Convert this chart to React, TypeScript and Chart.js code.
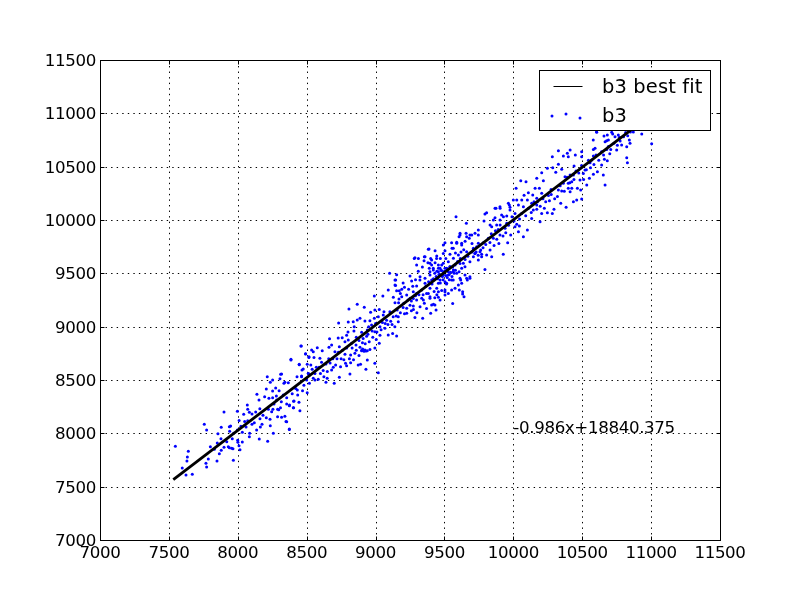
import React, { useEffect, useRef } from "react";
import { Chart, registerables } from "chart.js";

Chart.register(...registerables);

const tickValues = [7000, 7500, 8000, 8500, 9000, 9500, 10000, 10500, 11000, 11500];
const fitLabel = "b3 best fit";
const scatterLabel = "b3";
const annotationText = "-0.986x+18840.375";
const fitX = [7532, 10900];
const fitY = [7566, 10890];

const b3Low: number[][] = [
[7547,7878],[7597,7675],[7624,7609],[7670,7616],[7631,7741],[7634,7778],[7641,7831],[7769,7719],[7774,7684],[7757,8084],[7774,8031],[7786,7759],[7849,7741],[7801,7875],[7851,7909],[7856,7997],[7878,7950],[7866,7809],[7880,7841],[7900,7869],[7931,7875],[7939,7866],[7956,7859],[7965,7856],[7968,7747],[7880,8056],[7900,8200],[7939,8062],[7948,8069],[7941,8019],[7960,7950],[7997,8206],[7997,8031],[7999,7934],[8001,7916],[8009,7884],[8016,7847],[8033,7919],[8023,8066],[8033,8009],[8043,8178],[8069,8266],[8072,8225],[8084,8197],[8103,8181],[8072,8119],[8103,8084],[8086,8000],[8084,7969],[8137,8031],[8156,7947],[8164,8059],[8176,8084],[8217,7925],[8258,8000],[8236,8072],[8234,8131],[8161,8137],[8183,8169],[8207,8147],[8139,8366],[8154,8312],[8195,8344],[8207,8416],[8226,8328],[8253,8334],[8253,8397],[8275,8425],[8236,8478],[8263,8275],[8222,8225],[8246,8203],[8255,8225],[8289,8225],[8297,8222],[8289,8156],[8318,8150],[8355,8109],[8374,8041],[8316,8297],[8282,8312],[8355,8275],[8376,8266],[8405,8300],[8405,8241],[8444,8291],
[8461,8819],[8492,8744],[8517,8719],[8386,8687],[8446,8644],[8504,8647],[8466,8594],[8512,8562],[8214,8531],[8311,8553],[8306,8512],[8253,8500],[8335,8469],[8367,8475],[8519,8547],[8463,8537],[8342,8478],[8504,8381],[8451,8212],[8432,8406],[8408,8303],[8355,8334],[8374,8259],[8403,8241],[8342,8159],[8350,8112],[8374,8037],
];

const b3Mid: number[][] = [
[9102,9500],[9153,9487],[9141,9437],[9145,9387],[9172,9337],[9092,9344],[9053,9287],[8991,9287],[8867,9209],[8807,9166],[8918,9181],[8964,9134],[8995,9156],[9027,9162],[9061,9141],[9141,9225],[9157,9156],[9167,9225],[8732,9034],[8802,9044],[8838,9047],[8867,9062],[8887,9078],[8923,9053],[8959,9056],[8991,9078],[9020,9094],[9056,9109],[9104,9141],[9128,9094],[9165,9047],[9032,9000],[8995,8953],[9032,8919],[9068,8984],[9092,8922],[9124,8937],[9153,8912],[8971,9016],[8940,8969],[8899,8947],[8843,8959],[8790,8919],[8758,8897],[8729,8894],[8666,8887],[8681,8828],[8662,8806],[8737,8812],[8778,8859],[8802,8875],[8826,8844],[8858,8828],[8899,8775],[8923,8781],[8940,8775],[8959,8787],[8995,8800],[9027,8844],[8954,8859],[8887,8806],[8850,8750],[8819,8734],[8778,8741],[8705,8766],[8577,8803],[8536,8781],[8548,8766],[8613,8775],[8492,8747],[8458,8819],[8516,8712],[8553,8712],[8596,8703],[8386,8694],[8446,8647],[8475,8603],[8463,8531],[8512,8562],[8608,8666],[8693,8619],[8681,8594],[8649,8516],[8737,8525],[8782,8656],[8790,8634],[8819,8662],[8746,8625],[8874,8641],[8891,8647],[8940,8687],[8930,8600],[8995,8656],[9020,8569],[8814,8556],[8584,8506],[8318,8556],[8548,8516],
[8900,8778],[8912,8780],[8930,8772],[8916,8770],[8906,8790],[8560,8560],[8620,8590],[8640,8650],[8660,8700],[8720,8700],[8750,8700],[8770,8690],[8710,8640],[8830,8800],[8860,8900],[8880,8870],[8910,8890],[8935,8910],[8980,8900],[9010,8950],[9050,9040],[9080,9060],[9110,9050],[9140,9000],[9000,9030],[8950,9000],[8845,9000],[8800,8950],[8640,8480],[8700,8470],[8530,8640],[8570,8620],[8600,8560],
];

const b3Core: number[][] = [
[9971,10141],[9903,10125],[9874,10109],[9806,10069],[9794,10056],[9915,10047],[9952,10037],[9855,9999],[9903,9999],[9584,10031],[9659,9969],[9787,9991],[9831,9953],[9879,9953],[9940,9922],[9746,9906],[9722,9875],[9698,9859],[9657,9875],[9613,9875],[9606,9844],[9589,9791],[9625,9781],[9552,9787],[9504,9787],[9555,9734],[9492,9687],[9388,9728],[9432,9712],[9444,9662],[9359,9656],[9286,9647],[9311,9640],[9352,9619],[9432,9600],[9480,9578],[9528,9609],[9565,9641],[9601,9672],[9661,9703],[9710,9719],[9746,9781],[9782,9787],[9819,9828],[9855,9828],[9903,9859],[9959,9787],[9927,9678],[9831,9719],[9806,9672],[9843,9656],[9794,9537],[9746,9625],[9710,9656],[9685,9609],[9722,9687],[9763,9719],[9734,9750],[9637,9594],[9625,9547],[9606,9516],[9649,9484],[9685,9453],[9666,9437],[9618,9437],[9601,9391],[9632,9328],[9642,9281],[9577,9359],[9552,9344],[9504,9297],[9468,9250],[9407,9203],[9439,9156],[9400,9125],[9342,9078],[9286,9087],[9226,9125],[9165,9094],[9226,9172],[9274,9194],[9323,9187],[9354,9219],[9395,9266],[9456,9275],[9504,9344],[9444,9359],[9383,9312],[9335,9266],[9298,9250],[9250,9266],[9190,9281],[9129,9275],[9226,9297],[9274,9328],[9335,9344],[9395,9359],[9153,9337],[9190,9350],[9141,9391],[9146,9437],[9262,9428],[9298,9381],[9359,9406],[9407,9437],[9468,9437],[9504,9422],[9552,9437],[9323,9469],[9250,9475],[9395,9484],[9390,9547],[9419,9531],[9456,9515],[9492,9500],[9528,9515],[9565,9531],[9589,9500],[9468,9547],[9504,9547],[9540,9562],[9577,9578],[9492,9594],[9456,9578],[9407,9578],
[9430,9500],[9445,9520],[9460,9490],[9475,9530],[9485,9470],[9500,9520],[9510,9480],[9520,9540],[9535,9490],[9545,9510],[9555,9470],[9570,9500],[9440,9470],[9420,9450],[9450,9450],[9470,9410],[9490,9440],[9515,9400],[9535,9440],[9410,9400],[9385,9420],[9365,9380],[9345,9300],[9370,9310],[9425,9330],[9445,9300],[9480,9340],[9520,9460],[9560,9560],[9580,9530],[9595,9610],[9615,9640],[9650,9630],[9670,9660],[9700,9700],[9730,9700],[9745,9670],[9770,9680],[9780,9740],[9800,9770],[9830,9790],[9860,9760],[9880,9820],[9895,9780],[9700,9780],[9680,9830],[9650,9800],[9640,9720],[9620,9700],[9580,9690],[9540,9680],[9510,9640],[9470,9640],[9400,9640],[9380,9600],[9340,9560],[9310,9520],[9290,9440],[9270,9380],[9240,9350],[9210,9370],[9200,9410],[9180,9310],[9170,9260],[9205,9220],[9250,9200],[9290,9290],[9315,9300],[9430,9270],[9420,9210],[9370,9170],[9300,9130],[9260,9150],[9200,9180],
[9281,9640],[9354,9656],[9298,9578],[9383,9725],[9407,9625],[9443,9640],[9492,9765],[9504,9712],[9564,9734],[9589,9781],[9625,9765],[9613,9859],[9395,9594],[9419,9547],[9456,9547],[9480,9525],[9516,9547],[9540,9562],[9492,9484],[9528,9484],[9564,9515],[9395,9515],[9359,9453],[9322,9437],[9419,9437],[9456,9406],[9516,9406],[9564,9437],[9613,9453],[9661,9453],[9685,9468],[9625,9406],[9608,9343],[9632,9306],[9560,9218],[9528,9312],[9504,9328],[9456,9328],[9395,9281],[9347,9250],[9298,9312],[9274,9265],[9431,9203],[9613,9593],[9649,9562],[9710,9734],[9722,9687],[9758,9703],[9770,9656],[9746,9859],[9685,9859],[9661,9843],
];

const b3High: number[][] = [
[10605,10822],[10658,10787],[10682,10797],[10714,10822],[10721,10806],[10762,10797],[10690,10750],[10666,10734],[10738,10781],[10770,10775],[10842,10750],[10871,10825],[10932,10806],[11004,10716],[10847,10719],[10786,10703],[10823,10687],[10750,10656],[10707,10662],[10678,10662],[10593,10672],[10581,10662],[10412,10656],[10327,10650],[10392,10625],[10399,10594],[10363,10600],[10283,10594],[10450,10609],[10496,10640],[10496,10594],[10581,10600],[10569,10562],[10661,10569],[10682,10556],[10641,10516],[10823,10584],[10828,10537],[10666,10328],[10653,10422],[10610,10453],[10581,10428],[10552,10391],[10533,10328],[10508,10437],[10520,10469],[10557,10537],[10441,10506],[10327,10522],[10247,10484],[10286,10491],[10351,10475],[10308,10447],[10206,10444],[10218,10369],[10170,10391],[10054,10369],[10092,10359],[10020,10297],[10158,10297],[10189,10297],[10274,10287],[10327,10281],[10351,10272],[10399,10297],[10424,10297],[10465,10297],[10489,10281],[10412,10266],[10496,10197],[10460,10187],[10436,10172],[10344,10156],[10383,10119],[10295,10100],[10247,10069],[10283,10062],[10225,10109],[10206,10062],[10170,10100],[10194,9984],[10102,9906],[10133,10015],[10073,9844],[10044,9944],[10012,9937],[9981,9859],[10037,9891],[10078,10231],[10109,10256],[10141,10234],[10170,10203],[10206,10250],[10262,10181],[10102,10187],[10061,10187],[10025,10187],[10000,10187],[9964,10156],[9976,10119],[10037,10140],[10073,10125],[10133,10156],[10170,10140],[9867,10109],[9904,10109],[9976,10094],[10012,10062],[9928,10031],[9867,10022],[9843,9937],[9904,9953],[9952,9969],[10145,10094],[10363,10344],[10399,10344],[10412,10422],[10375,10406],[10436,10422],[10484,10375],[10424,10359],[10604,10828],[10580,10750],[10677,10744],
];

const b3Fill: number[][] = [
[8430,8530],[8480,8450],[8520,8470],[8560,8500],[8590,8620],[8625,8530],[8650,8580],[8670,8660],[8690,8700],[8730,8760],[8760,8780],[8790,8800],[8810,8700],[8840,8690],[8860,8780],[8880,8730],[8905,8850],[8925,8840],[8945,8930],[8975,8960],[9005,8880],[9040,8970],[9070,9030],[9090,9020],[9120,9020],[9150,9100],[9180,9130],[9210,9120],[9235,9250],[9260,9240],[9275,9160],[8420,8420],[8395,8370],[8330,8360],[8300,8400],[8280,8350],[8160,8230],[8130,8200],[8120,8100],[8060,8060],[8050,8110],[8010,8120],[7970,8000],[7920,7920],[7830,7850],[8310,8240],[8435,8360],[8470,8400],[8500,8500],[8540,8600],
[9840,9870],[9870,9900],[9890,9910],[9925,9850],[9945,9880],[9965,9950],[9990,10030],[10005,9990],[10025,9960],[10045,10010],[10060,10060],[10090,10040],[10110,10110],[10130,10070],[10150,10170],[10175,10170],[10195,10130],[10215,10200],[10235,10170],[10255,10230],[10275,10240],[10300,10200],[10320,10220],[10340,10320],[10370,10270],[10390,10400],[10410,10350],[10440,10380],[10455,10460],[10475,10440],[10495,10510],[10510,10380],[10530,10470],[10545,10560],[10560,10490],[10585,10520],[10600,10610],[10620,10560],[10640,10640],[10655,10610],[10690,10690],[10700,10620],[10730,10720],[10755,10700],[10775,10740],[10800,10780],[10815,10820],[10830,10790],[10850,10825],
];

const b3Points = [...b3Low, ...b3Mid, ...b3Core, ...b3High, ...b3Fill];
const FONT = '"DejaVu Sans"';

const gridPlugin = {
  id: "dottedGrid",
  beforeDatasetsDraw(chart: any) {
    const { ctx, chartArea: a, scales } = chart;
    ctx.save();
    ctx.strokeStyle = "#000";
    ctx.lineWidth = 1;
    ctx.setLineDash([1.39, 4.17]);
    tickValues.forEach((v) => {
      const px = Math.round(scales.x.getPixelForValue(v)) + 0.5;
      const py = Math.round(scales.y.getPixelForValue(v)) + 0.5;
      ctx.beginPath();
      ctx.moveTo(px, a.bottom);
      ctx.lineTo(px, a.top);
      ctx.moveTo(a.left, py);
      ctx.lineTo(a.right, py);
      ctx.stroke();
    });
    ctx.restore();
  },
};

const frameAndLegend = {
  id: "frameAndLegend",
  afterDraw(chart: any) {
    const { ctx, chartArea: a, scales } = chart;
    ctx.save();
    ctx.strokeStyle = "#000";
    ctx.lineWidth = 1;
    ctx.setLineDash([]);
    const seg = (x1: number, y1: number, x2: number, y2: number) => {
      ctx.beginPath();
      ctx.moveTo(Math.round(x1) + 0.5, Math.round(y1) + 0.5);
      ctx.lineTo(Math.round(x2) + 0.5, Math.round(y2) + 0.5);
      ctx.stroke();
    };
    tickValues.forEach((v) => {
      const px = scales.x.getPixelForValue(v);
      const py = scales.y.getPixelForValue(v);
      seg(px, a.bottom, px, a.bottom - 4);
      seg(px, a.top, px, a.top + 4);
      seg(a.left, py, a.left + 4, py);
      seg(a.right, py, a.right - 4, py);
    });
    ctx.strokeRect(a.left + 0.5, a.top + 0.5, a.right - a.left, a.bottom - a.top);

    ctx.fillStyle = "#000";
    ctx.font = `16.67px ${FONT}`;
    ctx.letterSpacing = "-0.36px";
    ctx.textBaseline = "alphabetic";
    ctx.textAlign = "center";
    tickValues.forEach((v) => {
      ctx.fillText(String(v), scales.x.getPixelForValue(v), a.bottom + 18);
    });
    ctx.textAlign = "right";
    tickValues.forEach((v) => {
      ctx.fillText(String(v), a.left - 4, scales.y.getPixelForValue(v) + 6);
    });
    ctx.textAlign = "left";
    ctx.fillText(annotationText, scales.x.getPixelForValue(10000), scales.y.getPixelForValue(8000));

    const [fit, pts] = chart.data.datasets;
    const lx = a.right - 181;
    const ly = a.top + 10;
    ctx.fillStyle = "#fff";
    ctx.fillRect(lx, ly, 171, 60);
    ctx.strokeRect(lx + 0.5, ly + 0.5, 171, 60);
    seg(lx + 14, ly + 16, lx + 43, ly + 16);
    ctx.fillStyle = "#000";
    ctx.font = `19.44px ${FONT}`;
    ctx.letterSpacing = "0.15px";
    ctx.fillText(fit.label, lx + 63, ly + 23);
    ctx.fillText(pts.label, lx + 63, ly + 52);
    ctx.letterSpacing = "0px";
    ctx.fillStyle = "#0000ff";
    [[13, 46], [27, 44], [41, 48]].forEach(([dx, dy]) => {
      ctx.beginPath();
      ctx.arc(lx + dx, ly + dy, 1.5, 0, Math.PI * 2);
      ctx.fill();
    });
    ctx.restore();
  },
};

const axis = (isX: boolean) => ({
  type: "linear" as const,
  min: 7000,
  max: 11500,
  afterBuildTicks(scale: any) {
    scale.ticks = tickValues.map((value) => ({ value }));
  },
  afterFit(scale: any) {
    if (isX) scale.height = 60;
    else scale.width = 100;
  },
  grid: { display: false },
  border: { display: false },
  ticks: { display: false, autoSkip: false, maxRotation: 0 },
});

export default function App() {
  const ref = useRef<HTMLCanvasElement>(null);
  useEffect(() => {
    const chart = new Chart(ref.current!, {
      type: "scatter",
      data: {
        datasets: [
          {
            label: fitLabel,
            data: fitX.map((x, i) => ({ x, y: fitY[i] })),
            showLine: true,
            borderColor: "#000",
            borderWidth: 2.8,
            pointRadius: 0,
          },
          {
            label: scatterLabel,
            data: b3Points.map(([x, y]) => ({ x, y })),
            backgroundColor: "#0000ff",
            borderWidth: 0,
            pointRadius: 1.5,
          },
        ],
      },
      options: {
        responsive: false,
        animation: false,
        devicePixelRatio: 1,
        layout: { padding: { top: 60, right: 80, left: 0, bottom: 0 } },
        plugins: { legend: { display: false }, tooltip: { enabled: false } },
        scales: { x: axis(true), y: axis(false) },
      } as any,
      plugins: [gridPlugin, frameAndLegend],
    });
    return () => chart.destroy();
  }, []);
  return (
    <canvas
      ref={ref}
      width={800}
      height={600}
      style={{ position: "fixed", left: 0, top: 0, width: 800, height: 600, background: "#fff" }}
    />
  );
}
